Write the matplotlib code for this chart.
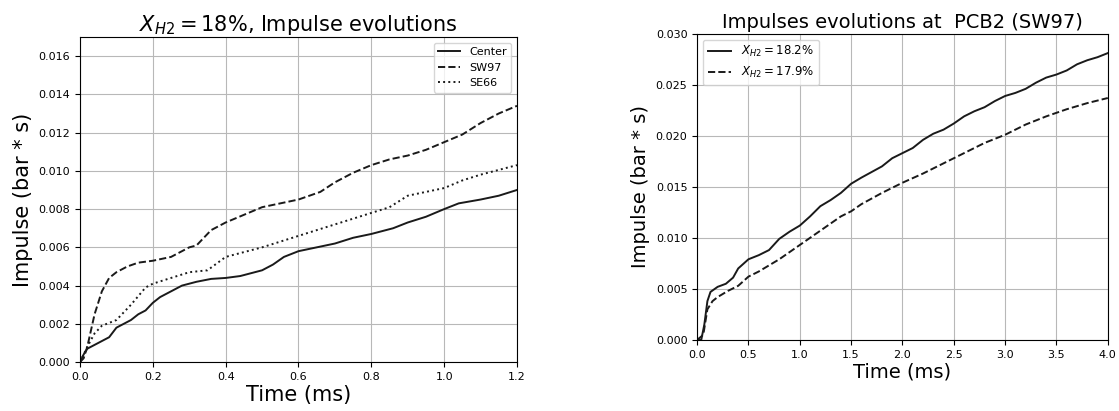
import numpy as np
import matplotlib
matplotlib.use('Agg')
import matplotlib.pyplot as plt

# left panel: X_H2 = 18%
t_center = [0, 0.01, 0.02, 0.04, 0.06, 0.08, 0.1, 0.12, 0.14, 0.16, 0.18, 0.2, 0.22, 0.25,
            0.28, 0.3, 0.32, 0.36, 0.4, 0.44, 0.48, 0.5, 0.53, 0.56, 0.6, 0.65, 0.7, 0.75,
            0.8, 0.86, 0.9, 0.95, 1.0, 1.04, 1.1, 1.15, 1.2]
imp_center = [0, 0.0004, 0.0007, 0.0009, 0.0011, 0.0013, 0.0018, 0.0020, 0.0022, 0.0025,
              0.0027, 0.0031, 0.0034, 0.0037, 0.0040, 0.0041, 0.0042, 0.00435, 0.0044,
              0.0045, 0.0047, 0.0048, 0.0051, 0.0055, 0.0058, 0.0060, 0.0062, 0.0065,
              0.0067, 0.0070, 0.0073, 0.0076, 0.0080, 0.0083, 0.0085, 0.0087, 0.0090]

t_sw97 = [0, 0.01, 0.02, 0.04, 0.06, 0.08, 0.1, 0.13, 0.16, 0.2, 0.25, 0.3, 0.32, 0.36,
          0.4, 0.45, 0.5, 0.55, 0.6, 0.66, 0.7, 0.75, 0.8, 0.85, 0.9, 0.95, 1.0, 1.05,
          1.1, 1.15, 1.2]
imp_sw97 = [0, 0.0002, 0.0008, 0.0025, 0.0037, 0.0044, 0.0047, 0.0050, 0.0052, 0.0053,
            0.0055, 0.0060, 0.0061, 0.0069, 0.0073, 0.0077, 0.0081, 0.0083, 0.0085,
            0.0089, 0.0094, 0.0099, 0.0103, 0.0106, 0.0108, 0.0111, 0.0115, 0.0119,
            0.0125, 0.0130, 0.0134]

t_se66 = [0, 0.02, 0.04, 0.06, 0.1, 0.14, 0.18, 0.2, 0.25, 0.3, 0.35, 0.4, 0.5, 0.6,
          0.7, 0.8, 0.85, 0.9, 1.0, 1.05, 1.1, 1.2]
imp_se66 = [0, 0.0008, 0.0015, 0.0019, 0.0022, 0.0030, 0.0039, 0.0041, 0.0044, 0.0047,
            0.0048, 0.0055, 0.0060, 0.0066, 0.0072, 0.0078, 0.0081, 0.0087, 0.0091,
            0.0095, 0.0098, 0.0103]

# right panel: PCB2 (SW97)
t_182 = [0, 0.04, 0.07, 0.1, 0.13, 0.2, 0.28, 0.35, 0.4, 0.5, 0.6, 0.7, 0.8, 0.9, 1.0,
         1.1, 1.2, 1.3, 1.4, 1.5, 1.6, 1.8, 1.9, 2.0, 2.1, 2.2, 2.3, 2.4, 2.5, 2.6, 2.7,
         2.8, 2.9, 3.0, 3.1, 3.2, 3.3, 3.4, 3.5, 3.6, 3.7, 3.8, 3.9, 4.0]
imp_182 = [0, 0, 0.0015, 0.0038, 0.0047, 0.0052, 0.0055, 0.0061, 0.0070, 0.0079, 0.0083,
           0.0088, 0.0099, 0.0106, 0.0112, 0.0121, 0.0131, 0.0137, 0.0144, 0.0153,
           0.0159, 0.0170, 0.0178, 0.0183, 0.0188, 0.0196, 0.0202, 0.0206, 0.0212,
           0.0219, 0.0224, 0.0228, 0.0234, 0.0239, 0.0242, 0.0246, 0.0252, 0.0257,
           0.0260, 0.0264, 0.0270, 0.0274, 0.0277, 0.0281]

t_179 = [0, 0.06, 0.1, 0.15, 0.2, 0.3, 0.4, 0.5, 0.6, 0.8, 1.0, 1.2, 1.4, 1.5, 1.6, 1.8,
         2.0, 2.2, 2.4, 2.6, 2.8, 3.0, 3.2, 3.4, 3.6, 3.8, 4.0]
imp_179 = [0, 0.0005, 0.0030, 0.0038, 0.0042, 0.0048, 0.0053, 0.0062, 0.0067, 0.0079,
           0.0093, 0.0107, 0.0121, 0.0126, 0.0133, 0.0144, 0.0154, 0.0163, 0.0173,
           0.0183, 0.0193, 0.0201, 0.0211, 0.0219, 0.0226, 0.0232, 0.0237]

fig = plt.figure(figsize=(11.19, 4.11), dpi=100)
c = '#1a1a1a'

ax1 = fig.add_axes([0.0715, 0.119, 0.3905, 0.791])
ax1.plot(t_center, imp_center, '-', color=c, lw=1.4, label='Center')
ax1.plot(t_sw97, imp_sw97, '--', color=c, lw=1.4, label='SW97')
ax1.plot(t_se66, imp_se66, ':', color=c, lw=1.4, label='SE66')
ax1.set_xlim(0, 1.2)
ax1.set_ylim(0, 0.017)
ax1.set_yticks(np.arange(0, 0.0161, 0.002))
ax1.grid(True, color='#b8b8b8', lw=0.8)
ax1.tick_params(labelsize=8)
ax1.set_xlabel('Time (ms)', fontsize=15, labelpad=2)
ax1.set_ylabel('Impulse (bar * s)', fontsize=15)
ax1.set_title(r'$X_{H2} = 18\%$, Impulse evolutions', fontsize=15, pad=4)
ax1.legend(loc='upper right', fontsize=8)

ax2 = fig.add_axes([0.623, 0.173, 0.367, 0.745])
ax2.plot(t_182, imp_182, '-', color=c, lw=1.4, label=r'$X_{H2} = 18.2\%$')
ax2.plot(t_179, imp_179, '--', color=c, lw=1.4, label=r'$X_{H2} = 17.9\%$')
ax2.set_xlim(0, 4.0)
ax2.set_ylim(0, 0.030)
ax2.grid(True, color='#b8b8b8', lw=0.8)
ax2.tick_params(labelsize=8)
ax2.set_xlabel('Time (ms)', fontsize=14, labelpad=2)
ax2.set_ylabel('Impulse (bar * s)', fontsize=14)
ax2.set_title('Impulses evolutions at  PCB2 (SW97)', fontsize=14, pad=4)
ax2.legend(loc='upper left', fontsize=8.5)

fig.savefig('out.png', dpi=100)
